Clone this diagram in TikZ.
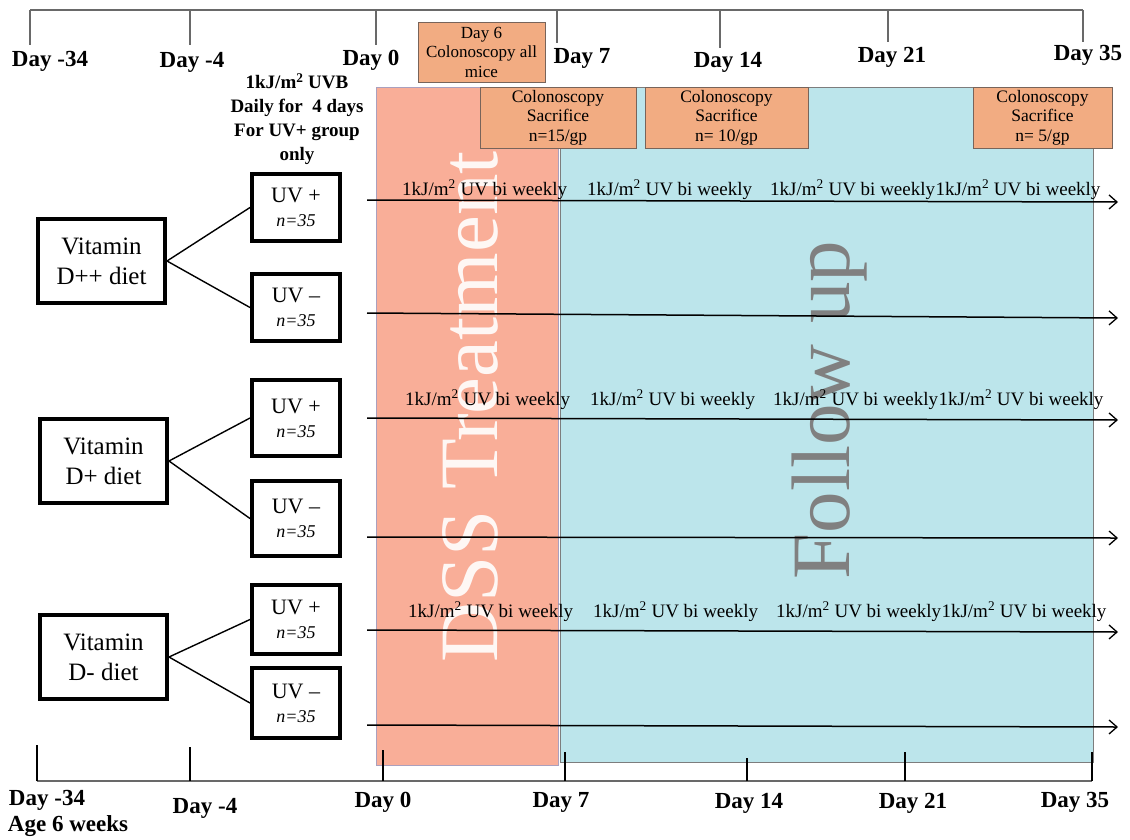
\documentclass[tikz,border=0pt]{standalone}
\usepackage{fontspec}
\setmainfont{Liberation Serif}
\usetikzlibrary{arrows.meta}
\definecolor{colfill}{RGB}{242,172,130}
\definecolor{coledge}{RGB}{120,100,90}
\definecolor{dsspink}{RGB}{249,174,152}
\definecolor{dssedge}{RGB}{170,160,190}
\definecolor{fucyan}{RGB}{188,229,235}
\definecolor{fuedge}{RGB}{125,125,125}
\definecolor{fugray}{RGB}{128,128,128}
\definecolor{tlgray}{RGB}{105,105,105}
\tikzset{
  daylbl/.style={font=\fontsize{23}{26}\selectfont\bfseries, inner sep=0pt},
  colbox/.style={draw=coledge, fill=colfill, line width=0.8pt, align=center, inner sep=0pt,
    font=\fontsize{17.5}{19.5}\selectfont},
  dietbox/.style={draw, line width=4pt, align=center, inner sep=0pt,
    font=\fontsize{25}{30}\selectfont},
  uvbox/.style={draw, line width=4pt, align=center, inner sep=0pt, minimum width=88pt,
    font=\fontsize{22}{24}\selectfont},
  uvlbl/.style={font=\fontsize{19}{22}\selectfont, inner sep=0pt, anchor=base west},
  growarrow/.style={line width=1.5pt, -{Straight Barb[length=8pt,width=14pt,line width=1.3pt]}},
  link/.style={line width=1.4pt},
  tickline/.style={line width=1.2pt},
}
\newcommand{\nn}{{\fontsize{18}{24}\selectfont\itshape n=35}}
\newcommand{\uvtxt}{1kJ/m\textsuperscript{2} UV bi weekly}
\begin{document}
\begin{tikzpicture}[x=1pt,y=-1pt]
\useasboundingbox (0,0) rectangle (1130,839);

% background periods
\filldraw[fill=dsspink, draw=dssedge, line width=1pt] (376,87) rectangle (558,765);
\filldraw[fill=fucyan, draw=fuedge, line width=1pt] (560,87) rectangle (1093,762);
\node[rotate=90, text=white, opacity=0.9, inner sep=0pt, font=\fontsize{83}{83}\selectfont] (dss) at (470,407) {DSS Treatment};
\node[rotate=90, text=fugray, inner sep=0pt, font=\fontsize{83}{83}\selectfont] (fu) at (830,410) {Follow up};

% top timeline
\draw[tlgray, line width=2pt] (30,10) -- (1083,10);
\foreach \x/\yy in {30/45,190/45,376/45,557/43,720/48,888/42,1083/42}
  \draw[tlgray, tickline] (\x,10) -- (\x,\yy);
\node[daylbl] (t1) at (50,61) {Day -34};
\node[daylbl] (t2) at (192,62) {Day -4};
\node[daylbl] (t3) at (371,60) {Day 0};
\node[daylbl] (t4) at (582,58) {Day 7};
\node[daylbl] (t5) at (728,62) {Day 14};
\node[daylbl] (t6) at (892,57) {Day 21};
\node[daylbl] (t7) at (1088,55) {Day 35};

% colonoscopy boxes
\node[colbox, minimum width=127pt, minimum height=60pt, font=\fontsize{17}{19.5}\selectfont] (d6) at (481.5,52) {Day 6\\Colonoscopy all\\mice};
\node[colbox, minimum width=156pt, minimum height=61pt] (c1) at (558,117.5) {Colonoscopy\\Sacrifice\\n=15/gp};
\node[colbox, minimum width=163pt, minimum height=61pt] (c2) at (726.5,117.5) {Colonoscopy\\Sacrifice\\n= 10/gp};
\node[colbox, minimum width=139pt, minimum height=61pt] (c3) at (1042.5,117.5) {Colonoscopy\\Sacrifice\\n= 5/gp};

% UVB note
\node[align=center, inner sep=0pt, font=\fontsize{19}{24}\selectfont\bfseries] (note) at (297,119) {1kJ/m\textsuperscript{2} UVB\\Daily for\ \ 4 days\\For UV+ group\\only};

% diet boxes
\node[dietbox, minimum width=127pt, minimum height=84pt] (dpp) at (101.5,261) {Vitamin\\D++ diet};
\node[dietbox, minimum width=127pt, minimum height=84pt] (dp) at (103.5,461) {Vitamin\\D+ diet};
\node[dietbox, minimum width=127pt, minimum height=84pt] (dm) at (103.5,657) {Vitamin\\D- diet};

% UV boxes
\node[uvbox, minimum height=67pt] (u1) at (296,207.5) {UV +\\\nn};
\node[uvbox, minimum height=67pt] (u2) at (296,307.5) {UV –\\\nn};
\node[uvbox, minimum height=76pt] (u3) at (296,418) {UV +\\\nn};
\node[uvbox, minimum height=75pt] (u4) at (296,518.5) {UV –\\\nn};
\node[uvbox, minimum height=69pt] (u5) at (296,619.5) {UV +\\\nn};
\node[uvbox, minimum height=70pt] (u6) at (296,703) {UV –\\\nn};

\draw[link] (dpp.east) -- (u1.west);
\draw[link] (dpp.east) -- (u2.west);
\draw[link] (dp.east) -- (u3.west);
\draw[link] (dp.east) -- (u4.west);
\draw[link] (dm.east) -- (u5.west);
\draw[link] (dm.east) -- (u6.west);

% follow-up arrows
\coordinate (s1) at (367,200); \coordinate (e1) at (1118,202);
\coordinate (s2) at (367,313); \coordinate (e2) at (1118,318);
\coordinate (s3) at (367,418); \coordinate (e3) at (1118,420);
\coordinate (s4) at (367,537); \coordinate (e4) at (1118,538);
\coordinate (s5) at (367,630); \coordinate (e5) at (1118,632);
\coordinate (s6) at (367,725); \coordinate (e6) at (1118,727);
\foreach \i in {1,...,6} \draw[growarrow] (s\i) -- (e\i);

% UV labels
\node[uvlbl] (l11) at (402,195) {\uvtxt};
\node[uvlbl] (l12) at (587,195) {\uvtxt};
\node[uvlbl] (l13) at (770,195) {\uvtxt};
\node[uvlbl] (l14) at (l13.base east) {\uvtxt};
\node[uvlbl] (l31) at (405,405) {\uvtxt};
\node[uvlbl] (l32) at (590,405) {\uvtxt};
\node[uvlbl] (l33) at (773,405) {\uvtxt};
\node[uvlbl] (l34) at (l33.base east) {\uvtxt};
\node[uvlbl] (l51) at (408,617) {\uvtxt};
\node[uvlbl] (l52) at (593,617) {\uvtxt};
\node[uvlbl] (l53) at (776,617) {\uvtxt};
\node[uvlbl] (l54) at (l53.base east) {\uvtxt};

% bottom timeline
\draw[tlgray, line width=2.5pt] (37,781) -- (1092,781);
\foreach \x/\yy in {37/745,190/747,383/750,565/752,747/758,905/752,1092/752}
  \draw[tickline] (\x,781) -- (\x,\yy);
\node[daylbl] (b1) at (47,800) {Day -34};
\node[daylbl] (b1a) at (68,826) {Age 6 weeks};
\node[daylbl] (b2) at (205,808) {Day -4};
\node[daylbl] (b3) at (383,802) {Day 0};
\node[daylbl] (b4) at (561,802) {Day 7};
\node[daylbl] (b5) at (749,803) {Day 14};
\node[daylbl] (b6) at (913,803) {Day 21};
\node[daylbl] (b7) at (1075,802) {Day 35};
\end{tikzpicture}
\end{document}
